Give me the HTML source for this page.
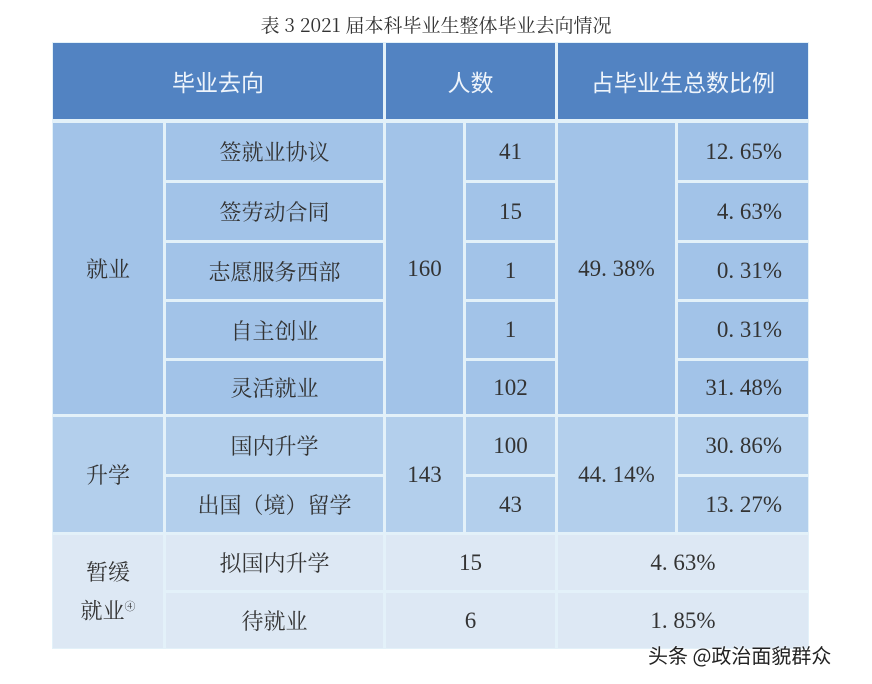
<!DOCTYPE html>
<html><head><meta charset="utf-8"><style>
body{margin:0;width:872px;height:684px;background:#fff;position:relative;overflow:hidden;font-family:"Noto Serif CJK SC","Liberation Serif",serif;color:#333}
.c{position:absolute;display:flex;align-items:center;justify-content:center;font-size:22px}
.h{background:#5283c2;color:#eef4fb;font-family:"Noto Sans CJK SC","Liberation Sans",sans-serif;font-size:23px}
.a{background:#a2c3e8}.b{background:#b3cfec}.d{background:#dde8f4}
.n{font-family:"Liberation Serif",serif;font-size:23px;letter-spacing:0}
.r{justify-content:flex-end;padding-right:26px;box-sizing:border-box}
</style></head><body>
<div style="position:absolute;left:0;width:872px;top:12px;text-align:center;font-size:19px;color:#333;line-height:26px">表 3 2021 届本科毕业生整体毕业去向情况</div>
<div style="position:absolute;left:52px;top:42px;width:757px;height:607px;background:#e3f1f9"></div>
<div class="c h" style="left:53px;top:43px;width:330px;height:76px">毕业去向</div>
<div class="c h" style="left:386px;top:43px;width:169px;height:76px">人数</div>
<div class="c h" style="left:558px;top:43px;width:250px;height:76px">占毕业生总数比例</div>

<div class="c a" style="left:53px;top:123px;width:110px;height:291px">就业</div>
<div class="c a" style="left:166px;top:123px;width:217px;height:57px">签就业协议</div>
<div class="c a" style="left:166px;top:183px;width:217px;height:57px">签劳动合同</div>
<div class="c a" style="left:166px;top:243px;width:217px;height:56px">志愿服务西部</div>
<div class="c a" style="left:166px;top:302px;width:217px;height:56px">自主创业</div>
<div class="c a" style="left:166px;top:361px;width:217px;height:53px">灵活就业</div>
<div class="c a n" style="left:386px;top:123px;width:77px;height:291px">160</div>
<div class="c a n" style="left:466px;top:123px;width:89px;height:57px">41</div>
<div class="c a n" style="left:466px;top:183px;width:89px;height:57px">15</div>
<div class="c a n" style="left:466px;top:243px;width:89px;height:56px">1</div>
<div class="c a n" style="left:466px;top:302px;width:89px;height:56px">1</div>
<div class="c a n" style="left:466px;top:361px;width:89px;height:53px">102</div>
<div class="c a n" style="left:558px;top:123px;width:117px;height:291px">49. 38%</div>
<div class="c a r n" style="left:678px;top:123px;width:130px;height:57px">12. 65%</div>
<div class="c a r n" style="left:678px;top:183px;width:130px;height:57px">4. 63%</div>
<div class="c a r n" style="left:678px;top:243px;width:130px;height:56px">0. 31%</div>
<div class="c a r n" style="left:678px;top:302px;width:130px;height:56px">0. 31%</div>
<div class="c a r n" style="left:678px;top:361px;width:130px;height:53px">31. 48%</div>

<div class="c b" style="left:53px;top:417px;width:110px;height:115px">升学</div>
<div class="c b" style="left:166px;top:417px;width:217px;height:57px">国内升学</div>
<div class="c b" style="left:166px;top:477px;width:217px;height:55px">出国（境）留学</div>
<div class="c b n" style="left:386px;top:417px;width:77px;height:115px">143</div>
<div class="c b n" style="left:466px;top:417px;width:89px;height:57px">100</div>
<div class="c b n" style="left:466px;top:477px;width:89px;height:55px">43</div>
<div class="c b n" style="left:558px;top:417px;width:117px;height:115px">44. 14%</div>
<div class="c b r n" style="left:678px;top:417px;width:130px;height:57px">30. 86%</div>
<div class="c b r n" style="left:678px;top:477px;width:130px;height:55px">13. 27%</div>

<div class="c d" style="left:53px;top:535px;width:110px;height:113px;line-height:34px;text-align:center"><span>暂缓<br>就业<sup style="font-size:11px">④</sup></span></div>
<div class="c d" style="left:166px;top:535px;width:217px;height:55px">拟国内升学</div>
<div class="c d" style="left:166px;top:593px;width:217px;height:55px">待就业</div>
<div class="c d n" style="left:386px;top:535px;width:169px;height:55px">15</div>
<div class="c d n" style="left:386px;top:593px;width:169px;height:55px">6</div>
<div class="c d n" style="left:558px;top:535px;width:250px;height:55px">4. 63%</div>
<div class="c d n" style="left:558px;top:593px;width:250px;height:55px">1. 85%</div>
<div style="position:absolute;left:648px;top:642px;font-family:'Noto Sans CJK SC','Liberation Sans',sans-serif;font-size:20px;color:#222;line-height:26px;text-shadow:0 0 2px #fff">头条 @政治面貌群众</div>
</body></html>
